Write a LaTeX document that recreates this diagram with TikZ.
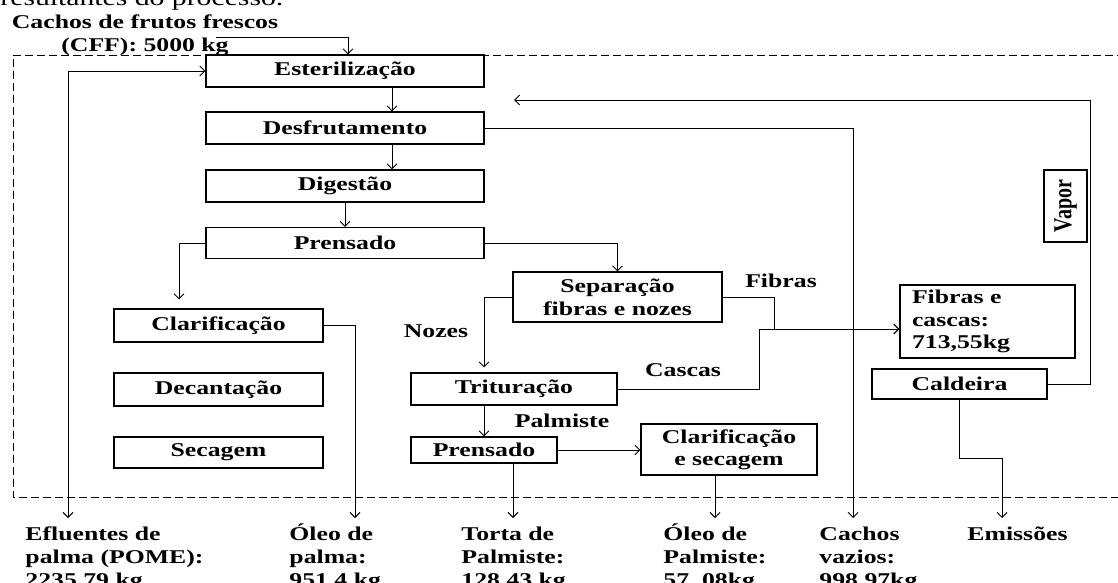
\documentclass[tikz,border=0pt]{standalone}
\usepackage{fontspec}
\setmainfont{Liberation Serif}[FakeStretch=1.32]
\newfontfamily\vaporfont{Liberation Serif}
\usetikzlibrary{arrows.meta}

\begin{document}
\begin{tikzpicture}[x=1pt,y=-1pt,line width=0.9pt,
  font=\bfseries\fontsize{19.5}{23}\selectfont]
  \useasboundingbox (0,0) rectangle (1118,582);

  \tikzstyle{etapa}=[draw,line width=1.1pt,inner sep=0pt,align=center]
  \tikzstyle{fluxo}=[-{Straight Barb[length=5pt,width=10pt]}]
  \tikzstyle{rotulo}=[inner sep=0pt]
  \tikzstyle{saida}=[anchor=base west,align=left,inner sep=0pt]

  % limite do processo
  \draw[dash pattern=on 8pt off 4pt,line width=0.8pt]
    (1125,55) -- (13,55) -- (13,497) -- (1125,497);

  \node[anchor=base west,inner sep=0pt,font=\mdseries\fontsize{22.5}{26}\selectfont]
    (titulo) at (0,5) {resultantes do processo.};
  \node[anchor=base,align=center,inner sep=0pt] (cff) at (145,51)
    {Cachos de frutos frescos\\(CFF): 5000 kg};

  % linha principal
  \node[etapa,minimum width=278pt,minimum height=32pt] (est)  at (345,71)  {Esterilização};
  \node[etapa,minimum width=278pt,minimum height=32pt] (desf) at (345,128) {Desfrutamento};
  \node[etapa,minimum width=278pt,minimum height=32pt] (dig)  at (345,186) {Digestão};
  \node[etapa,minimum width=278pt,minimum height=31pt] (pren) at (345,243) {Prensado};

  % oleo de palma
  \node[etapa,minimum width=209pt,minimum height=33pt] (clar) at (218.5,325.5) {Clarificação};
  \node[etapa,minimum width=209pt,minimum height=33pt] (dec)  at (218.5,389.5) {Decantação};
  \node[etapa,minimum width=209pt,minimum height=31pt] (sec)  at (218.5,452.5) {Secagem};

  % nozes e palmiste
  \node[etapa,minimum width=209pt,minimum height=50pt] (sep)  at (617.5,297) {Separação\\fibras e nozes};
  \node[etapa,minimum width=206pt,minimum height=32pt] (trit) at (514,389) {Trituração};
  \node[etapa,minimum width=146pt,minimum height=26pt] (pren2) at (484,450) {Prensado};
  \node[etapa,minimum width=176pt,minimum height=51pt,font=\bfseries\fontsize{19.5}{22}\selectfont]
    (ces) at (729,449.5) {Clarificação\\e secagem};

  % caldeira
  \node[etapa,align=left,text width=151pt,inner xsep=12pt,minimum height=73pt,
    font=\bfseries\fontsize{19.5}{22.5}\selectfont] (fc) at (987.5,321.5) {Fibras e\\cascas:\\713,55kg};
  \node[etapa,minimum width=175pt,minimum height=30pt] (cald) at (959.5,384) {Caldeira};
  \node[etapa,rotate=90,minimum width=72pt,minimum height=43pt,
    font=\vaporfont\bfseries\fontsize{20}{23}\selectfont] (vapor) at (1065.5,206)
    {\scalebox{1}[1.3]{Vapor}};

  \node[rotulo] (lfibras)   at (781,281) {Fibras};
  \node[rotulo] (lnozes)    at (436,331) {Nozes};
  \node[rotulo] (lcascas)   at (683,370) {Cascas};
  \node[rotulo] (lpalmiste) at (562,421) {Palmiste};

  % saidas
  \node[saida] (eflu)     at (25,586)  {Efluentes de\\palma (POME):\\2235,79 kg};
  \node[saida] (opalma)   at (289,586) {Óleo de\\palma:\\951,4 kg};
  \node[saida] (torta)    at (461,586) {Torta de\\Palmiste:\\128,43 kg};
  \node[saida] (opalmist) at (663,586) {Óleo de\\Palmiste:\\57, 08kg};
  \node[saida] (vazios)   at (819,586) {Cachos\\vazios:\\998,97kg};
  \node[saida] (emiss)    at (967,540) {Emissões};

  \coordinate (cffin)       at (216,37);
  \coordinate (efluout)     at (68,518);
  \coordinate (palmaout)    at (355,518);
  \coordinate (tortaout)    at (513,518);
  \coordinate (palmisteout) at (715,518);
  \coordinate (vaziosout)   at (853,518);
  \coordinate (emissout)    at (1002,518);
  \coordinate (vaportop)    at (1090,100);
  \coordinate (vaporin)     at (514,100);

  \draw[fluxo] (cffin) -| ([xshift=3pt]est.north);
  \draw[{Straight Barb[length=5pt,width=10pt]}-{Straight Barb[length=5pt,width=10pt]}]
    (est.west) -| (efluout);
  \draw[fluxo] ([xshift=47pt]est.south) -- ([xshift=47pt]desf.north);
  \draw[fluxo] ([xshift=47pt]desf.south) -- ([xshift=47pt]dig.north);
  \draw[fluxo] (dig.south) -- (pren.north);
  \draw[fluxo,shorten >=9pt] (pren.west) -| ([xshift=-39.5pt]clar.north);
  \draw[fluxo] (pren.east) -| (sep.north);
  \draw[fluxo] (desf.east) -| (vaziosout);
  \draw[fluxo] (clar.east) -| (palmaout);

  \draw[fluxo,shorten >=5pt] (sep.west) -| ([xshift=-30pt]trit.north);
  \draw[fluxo] (sep.east) -- ++(52,0) |- ([yshift=-7.5pt]fc.west);
  \draw[fluxo] (trit.east) -- ++(142,0) |- ([yshift=-7.5pt]fc.west);
  \draw[fluxo] (trit.south -| pren2.north) -- (pren2.north);
  \draw[fluxo] (pren2.east) -- (pren2.east -| ces.west);
  \draw[fluxo] ([xshift=29pt]pren2.south) -- (tortaout);
  \draw[fluxo] ([xshift=-14pt]ces.south) -- (palmisteout);

  \draw[fluxo] (cald.east) -| (vaportop) -- (vaporin);
  \draw[fluxo] (cald.south) -- ++(0,59) -| (emissout);
\end{tikzpicture}
\end{document}
